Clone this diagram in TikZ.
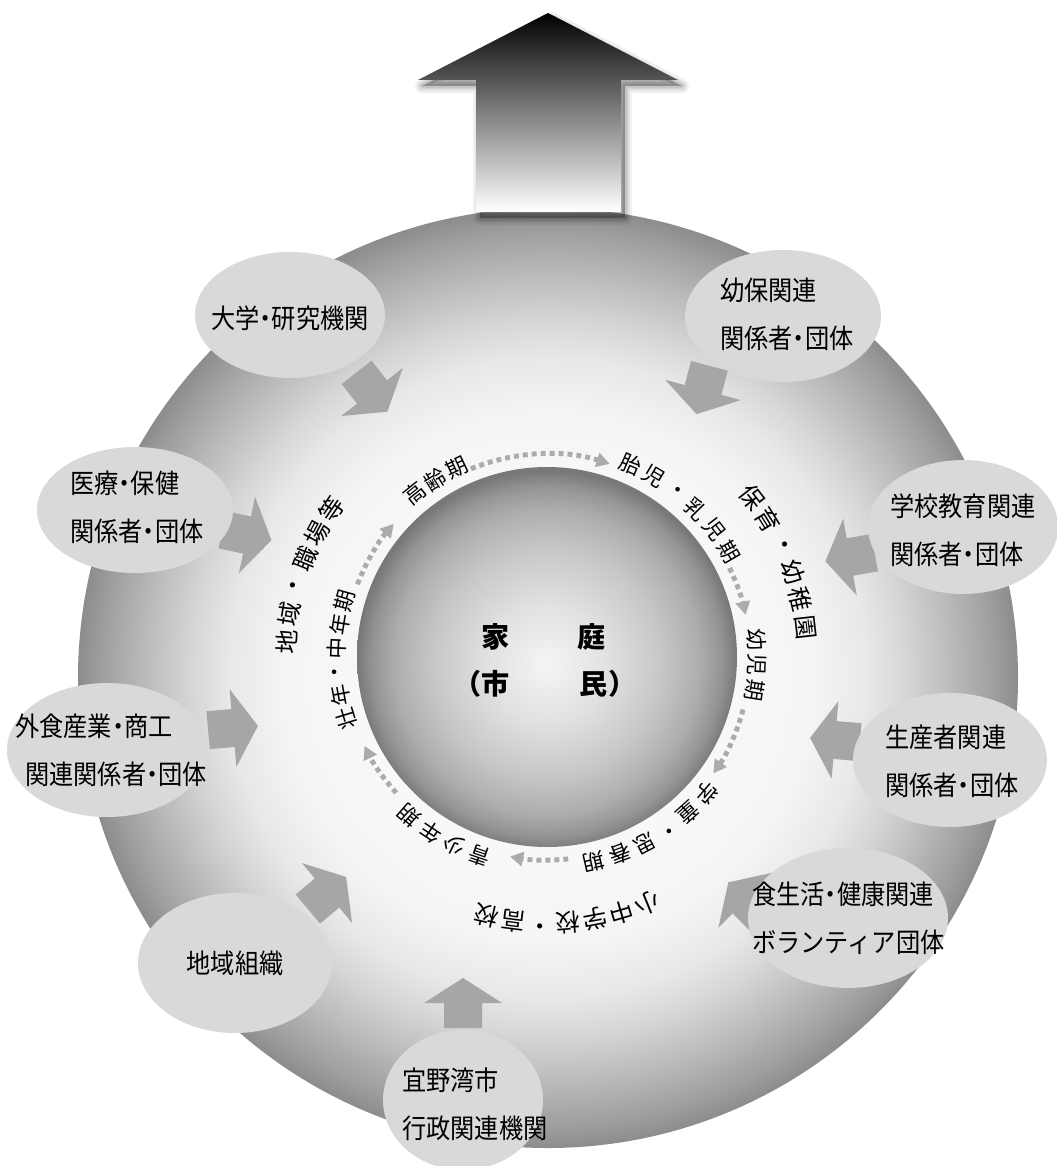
\documentclass[tikz,border=0pt]{standalone}
\usepackage{fontspec}
\newfontfamily\cjk[FakeStretch=0.9]{Noto Sans CJK JP}
\newfontfamily\cjkr{Noto Sans CJK JP}
\usetikzlibrary{shapes.geometric,arrows.meta,calc}
\pgfdeclareradialshading{bigdisc}{\pgfpoint{0bp}{0bp}}{color(0bp)=(white); color(14bp)=(black!4); color(17bp)=(black!9); color(19bp)=(black!16); color(21.5bp)=(black!27); color(23.8bp)=(black!38); color(25bp)=(black!45); color(50bp)=(black!45)}
\pgfdeclareradialshading{ballshade}{\pgfpoint{0bp}{-1bp}}{color(0bp)=(black!4); color(8bp)=(black!12); color(15bp)=(black!22); color(20bp)=(black!32); color(23bp)=(black!42); color(25bp)=(black!53); color(50bp)=(black!53)}
\newcommand\nd{\makebox[0.45em][c]{・}}
\tikzset{
  oval/.style={ellipse, fill=black!15, draw=none, inner sep=0pt},
  lbl/.style={font=\cjk\fontsize{15.3}{27.2}\selectfont, align=left, inner sep=0pt},
  ringc/.style={font=\cjkr\fontsize{12.3}{13}\selectfont, inner sep=0pt},
  ringo/.style={font=\cjkr\fontsize{13.8}{15}\selectfont, inner sep=0pt},
  ctr/.style={font=\cjkr\bfseries\fontsize{16}{18}\selectfont, inner sep=0pt},
  blk/.style={fill=black!35, draw=none},
  ringarrow/.style={draw=black!33, line width=2.8pt, dash pattern=on 2.8pt off 2.3pt, -{Triangle[length=7.5pt,width=8pt]}}
}
\newcommand\ringtxt[6]{%
  \foreach \ch [count=\k from 0] in {#5}{%
    \pgfmathsetmacro\ang{#3-\k*#4}%
    \node[#6, rotate=\ang-90] (#1\k) at ($(S)+(\ang:#2)$) {\ch};
  }}
\newcommand\blkarrow[2]{\fill[blk, shift={(#1)}, rotate=#2] (-25,-19) -- (0,-19) -- (0,-39) -- (25,0) -- (0,39) -- (0,19) -- (-25,19) -- cycle;}
\begin{document}
\begin{tikzpicture}[x=0.02cm,y=0.02cm]
\useasboundingbox (0,0) rectangle (1057,-1166);
\fill[white] (0,0) rectangle (1057,-1166);
\coordinate (D) at (548,-678);
\coordinate (S) at (547,-657);
% outer disc and sphere
\shade[shading=bigdisc] (D) circle[radius=470];
\shade[shading=ballshade] (S) circle[radius=190];
% center text
\node[ctr] (c1) at (544,-637) {家\hspace{1.36cm}庭};
\node[ctr] (c2) at (545,-684) {（市\hspace{1.4cm}民）};
% life stage ring
\ringtxt{ra}{210}{129}{6.8}{高,齢,期}{ringc}
\ringtxt{rb}{210}{66.6}{7.3}{胎,児,・,乳,児,期}{ringc}
\ringtxt{rc}{210}{4.7}{6.9}{幼,児,期}{ringc}
\ringtxt{rd}{210}{-40.5}{7.3}{学,童,・,思,春,期}{ringc}
\ringtxt{re}{210}{251.2}{7.4}{青,少,年,期}{ringc}
\ringtxt{rf}{210}{197}{6.5}{壮,年,・,中,年,期}{ringc}
\ringtxt{oa}{261}{176.7}{6.24}{地,域,・,職,場,等}{ringo}
\ringtxt{ob}{260}{38}{6.3}{保,育,・,幼,稚,園}{ringo}
\ringtxt{oc}{266}{-67.8}{5.9}{小,中,学,校,・,高,校}{ringo}
% dotted arrows
\coordinate (d1) at ($(S)+(112:203)$);
\coordinate (d2) at ($(S)+(26:203)$);
\coordinate (d3) at ($(S)+(-15:203)$);
\coordinate (d4) at ($(S)+(-84:203)$);
\coordinate (d5) at ($(S)+(222:203)$);
\coordinate (d6) at ($(S)+(159:203)$);
\draw[ringarrow] (d1) arc[start angle=112, end angle=72, radius=203];
\draw[ringarrow] (d2) arc[start angle=26, end angle=12, radius=203];
\draw[ringarrow] (d3) arc[start angle=-15, end angle=-35, radius=203];
\draw[ringarrow] (d4) arc[start angle=-84, end angle=-100.5, radius=203];
\draw[ringarrow] (d5) arc[start angle=222, end angle=206, radius=203];
\draw[ringarrow] (d6) arc[start angle=159, end angle=139, radius=203];
% block arrows (under the ellipses)
\blkarrow{372,-392}{-52}
\blkarrow{703,-390}{-105}
\blkarrow{247,-535}{-12}
\blkarrow{233,-728}{5}
\blkarrow{327,-893}{40}
\blkarrow{463,-1003}{90}
\blkarrow{746,-900}{135}
\blkarrow{835,-740}{175}
\blkarrow{850,-557}{190}
% ellipses
\node[oval, minimum width=3.8cm, minimum height=2.52cm] (e1) at (290,-315) {};
\node[oval, minimum width=3.92cm, minimum height=2.64cm] (e2) at (783,-316) {};
\node[oval, minimum width=3.8cm, minimum height=2.68cm] (e3) at (963,-527) {};
\node[oval, minimum width=3.88cm, minimum height=2.68cm] (e4) at (950,-760) {};
\node[oval, minimum width=4.0cm, minimum height=2.8cm] (e5) at (848,-918) {};
\node[oval, minimum width=3.2cm, minimum height=2.8cm] (e6) at (463,-1100) {};
\node[oval, minimum width=3.88cm, minimum height=2.8cm] (e7) at (235,-963) {};
\node[oval, minimum width=4.0cm, minimum height=2.68cm] (e8) at (107,-750) {};
\node[oval, minimum width=3.92cm, minimum height=2.52cm] (e9) at (135,-510) {};
\node[lbl] (t1) at (290,-318) {大学\nd 研究機関};
\node[lbl, anchor=west] (t2) at (720,-314) {幼保関連\\関係者\nd 団体};
\node[lbl, anchor=west] (t3) at (890,-530) {学校教育関連\\関係者\nd 団体};
\node[lbl, anchor=west] (t4) at (885,-761) {生産者関連\\関係者\nd 団体};
\node[lbl, anchor=west] (t5) at (752,-918) {食生活\nd 健康関連\\ボランティア団体};
\node[lbl, anchor=west] (t6) at (402,-1104) {宜野湾市\\行政関連機関};
\node[lbl] (t7) at (235,-963) {地域組織};
\node[lbl, anchor=west] (t8) at (15,-750) {外食産業\nd 商工\\\hspace*{0.2cm}関連関係者\nd 団体};
\node[lbl, anchor=west] (t9) at (70,-507) {医療\nd 保健\\関係者\nd 団体};
% big arrow with soft shadow
\begin{scope}[shift={(4,-6)}]
\foreach \w/\o in {14/0.06,9/0.08,5/0.1}{
  \draw[black, opacity=\o, line width=\w*0.02cm, line join=round, fill=black, fill opacity=0.1]
    (548,-13) -- (678,-80) -- (621,-80) -- (621,-212) -- (476,-212) -- (476,-80) -- (418,-80) -- cycle;}
\end{scope}
\shade[top color=black, bottom color=white] (548,-13) -- (678,-80) -- (621,-80) -- (621,-212) -- (476,-212) -- (476,-80) -- (418,-80) -- cycle;
\end{tikzpicture}
\end{document}
